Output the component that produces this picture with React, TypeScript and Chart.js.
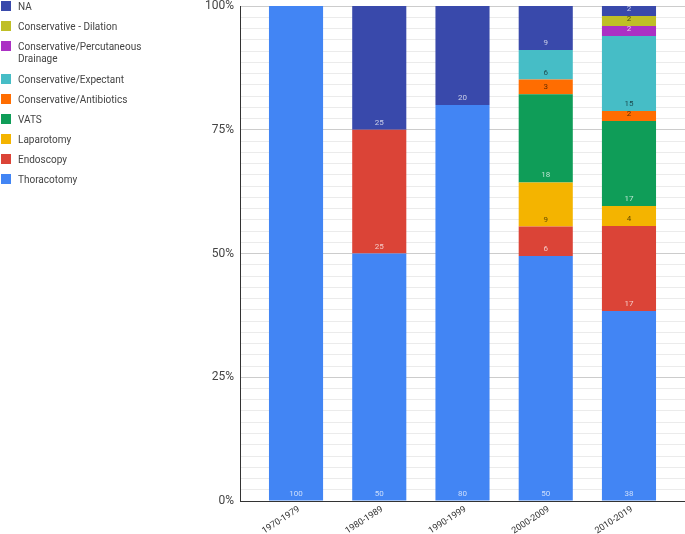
import React, { useEffect, useRef } from "react";
import { Chart, registerables } from "chart.js";

Chart.register(...registerables);

const categories = ["1970-1979", "1980-1989", "1990-1999", "2000-2009", "2010-2019"];

// stacked bottom -> top (labels shown on the bars)
const thoracotomy = [100, 50, 80, 50, 38];
const endoscopy = [0, 25, 0, 6, 17];
const laparotomy = [0, 0, 0, 9, 4];
const vats = [0, 0, 0, 18, 17];
const antibiotics = [0, 0, 0, 3, 2];
const expectant = [0, 0, 0, 6, 15];
const percutaneous = [0, 0, 0, 0, 2];
const dilation = [0, 0, 0, 0, 2];
const na = [0, 25, 20, 9, 2];

const yTickLabels = ["0%", "25%", "50%", "75%", "100%"];

const series = [
  { name: "Thoracotomy", values: thoracotomy, color: "#4285F4", dark: true },
  { name: "Endoscopy", values: endoscopy, color: "#DB4437", dark: true },
  { name: "Laparotomy", values: laparotomy, color: "#F4B400", dark: false },
  { name: "VATS", values: vats, color: "#0F9D58", dark: true },
  { name: "Conservative/Antibiotics", values: antibiotics, color: "#FF6D01", dark: false },
  { name: "Conservative/Expectant", values: expectant, color: "#46BDC6", dark: false },
  { name: "Conservative/Percutaneous Drainage", values: percutaneous, color: "#AB30C4", dark: true },
  { name: "Conservative - Dilation", values: dilation, color: "#BFBF26", dark: false },
  { name: "NA", values: na, color: "#3949AB", dark: true },
];

const totals = categories.map((_, i) => series.reduce((s, d) => s + d.values[i], 0));

const valueLabels = {
  id: "valueLabels",
  afterDatasetsDraw(chart: any) {
    const ctx = chart.ctx;
    ctx.save();
    ctx.font = "8px Roboto";
    ctx.textAlign = "center";
    ctx.textBaseline = "middle";
    chart.data.datasets.forEach((ds: any, di: number) => {
      const meta = chart.getDatasetMeta(di);
      meta.data.forEach((el: any, i: number) => {
        const raw = series[di].values[i];
        if (!raw) return;
        ctx.fillStyle = series[di].dark ? "rgba(255,255,255,0.72)" : "rgba(0,0,0,0.62)";
        ctx.fillText(String(raw), el.x, el.base - 7);
      });
    });
    ctx.restore();
  },
};

export default function App() {
  const ref = useRef<HTMLCanvasElement>(null);

  useEffect(() => {
    const chart = new Chart(ref.current!, {
      type: "bar",
      data: {
        datasets: series.map((s) => ({
          label: s.name,
          data: s.values.map((v, i) => ({ x: i, y: (v / totals[i]) * 100 })),
          backgroundColor: s.color,
          borderWidth: 0,
          categoryPercentage: 1,
          barPercentage: 0.65,
        })),
      },
      options: {
        animation: false,
        responsive: false,
        layout: { padding: { top: 0, right: 0, left: 0, bottom: 0 } },
        plugins: { legend: { display: false }, tooltip: { enabled: false } },
        scales: {
          x: {
            type: "linear",
            min: -0.673,
            max: 4.673,
            offset: false,
            stacked: true,
            afterBuildTicks: (scale: any) => {
              scale.ticks = categories.map((_, i) => ({ value: i }));
            },
            afterFit: (scale: any) => {
              scale.height = 33;
            },
            grid: { display: true, offset: false, color: "rgba(0,0,0,0)", drawTicks: false },
            border: { display: true, color: "#333", width: 1 },
            ticks: {
              autoSkip: false,
              minRotation: 33,
              maxRotation: 33,
              padding: 3,
              labelOffset: 3,
              color: "#333",
              font: { family: "Roboto", size: 9 },
              callback: (v: any) => categories[v] ?? "",
            },
          },
          y: {
            type: "linear",
            min: 0,
            max: 100,
            stacked: true,
            afterBuildTicks: (scale: any) => {
              scale.ticks = Array.from({ length: 45 }, (_, i) => ({ value: (i * 25) / 11 }));
            },
            afterFit: (scale: any) => {
              scale.width = 240;
              scale.paddingTop = 6;
              scale.paddingBottom = 0;
            },
            grid: {
              drawTicks: false,
              color: (c: any) => (c.index % 11 === 0 ? "#cccccc" : "#ebebeb"),
            },
            border: { display: true, color: "#333", width: 1 },
            ticks: {
              autoSkip: false,
              padding: 6,
              color: "#444",
              font: { family: "Roboto", size: 12, lineHeight: 1 },
              callback: (_v: any, i: number) => (i % 11 === 0 ? yTickLabels[i / 11] : ""),
            },
          },
        },
      },
      plugins: [valueLabels],
    } as any);
    return () => chart.destroy();
  }, []);

  const legendItems = [...series].reverse();

  return (
    <div style={{ position: "fixed", left: 0, top: 0, width: 685, height: 534, background: "#fff" }}>
      <canvas ref={ref} width={685} height={534} style={{ position: "absolute", left: 0, top: 0 }} />
      <div style={{ position: "absolute", left: 0, top: 1, fontFamily: "Roboto", fontSize: 10, color: "#444" }}>
        {legendItems.map((s) => (
          <div
            key={s.name}
            style={{ display: "flex", alignItems: "flex-start", marginBottom: s.name.length > 30 ? 9 : 8 }}
          >
            <div style={{ width: 10, height: 10, background: s.color, marginTop: 0, marginLeft: 1, flex: "none" }} />
            <div style={{ marginLeft: 7, lineHeight: "12px", width: 130 }}>{s.name}</div>
          </div>
        ))}
      </div>
    </div>
  );
}
